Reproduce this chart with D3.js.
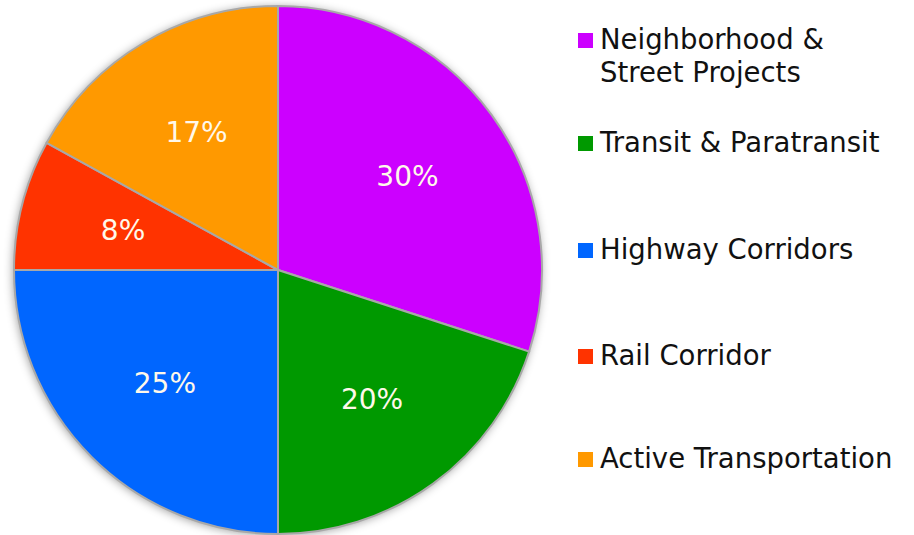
<!DOCTYPE html>
<html>
<head>
<meta charset="utf-8">
<script src="https://cdn.jsdelivr.net/npm/d3@7"></script>
<style>
    body { margin: 0; background: #fff; }
    svg { display: block; }
    .legend-label { font-family: "DejaVu Sans", Verdana, sans-serif; font-size: 27.5px; fill: #111; }
    .slice-label { font-family: "DejaVu Sans", Verdana, sans-serif; font-size: 28px; fill: #fff8ea; }
</style>
</head>
<body>
<div id="chart"></div>
<script>
// data
let categories = ["Neighborhood & Street Projects", "Transit & Paratransit", "Highway Corridors", "Rail Corridor", "Active Transportation"];
let legendLines = [["Neighborhood &", "Street Projects"], ["Transit & Paratransit"], ["Highway Corridors"], ["Rail Corridor"], ["Active Transportation"]];
let values = [30, 20, 25, 8, 17];
let colors = ["#cc00ff", "#009900", "#0066ff", "#ff3300", "#ff9900"];

let width = 914, height = 535;
let cx = 278, cy = 270, radius = 264;

let svg = d3.select("#chart").append("svg")
    .attr("width", width)
    .attr("height", height);

// soft shadow around the pie
let defs = svg.append("defs");
let filter = defs.append("filter").attr("id", "shadow")
    .attr("x", "-10%").attr("y", "-10%").attr("width", "120%").attr("height", "120%");
filter.append("feDropShadow")
    .attr("dx", -1).attr("dy", 1)
    .attr("stdDeviation", 5)
    .attr("flood-color", "#000")
    .attr("flood-opacity", 0.4);

let data = categories.map((c, i) => ({name: c, value: values[i], color: colors[i]}));

let pie = d3.pie().sort(null).value(d => d.value);
let arc = d3.arc().innerRadius(0).outerRadius(radius);
let labelArc = d3.arc().innerRadius(160).outerRadius(160);

let g = svg.append("g").attr("transform", `translate(${cx},${cy})`);

g.append("circle")
    .attr("r", radius)
    .attr("fill", "#fff")
    .attr("filter", "url(#shadow)");

g.selectAll("path.slice")
    .data(pie(data))
    .enter()
    .append("path")
    .attr("class", "slice")
    .attr("d", arc)
    .attr("fill", d => d.data.color)
    .attr("stroke", "#a8a8a8")
    .attr("stroke-width", 2);

g.selectAll("text.slice-label")
    .data(pie(data))
    .enter()
    .append("text")
    .attr("class", "slice-label")
    .attr("transform", d => `translate(${labelArc.centroid(d)})`)
    .attr("text-anchor", "middle")
    .attr("dy", "0.35em")
    .text(d => d.data.value + "%");

// legend
let legendY = [49, 152, 259, 365, 468];
let legend = svg.append("g").attr("class", "legend");

data.forEach(function(d, i) {
    let row = legend.append("g").attr("transform", `translate(578,${legendY[i]})`);
    row.append("rect")
        .attr("x", 0).attr("y", -16)
        .attr("width", 15).attr("height", 15)
        .attr("fill", d.color);
    let t = row.append("text")
        .attr("class", "legend-label")
        .attr("x", 22);
    legendLines[i].forEach(function(line, j) {
        t.append("tspan")
            .attr("x", 22)
            .attr("dy", j === 0 ? 0 : 33)
            .text(line);
    });
});
</script>
</body>
</html>
